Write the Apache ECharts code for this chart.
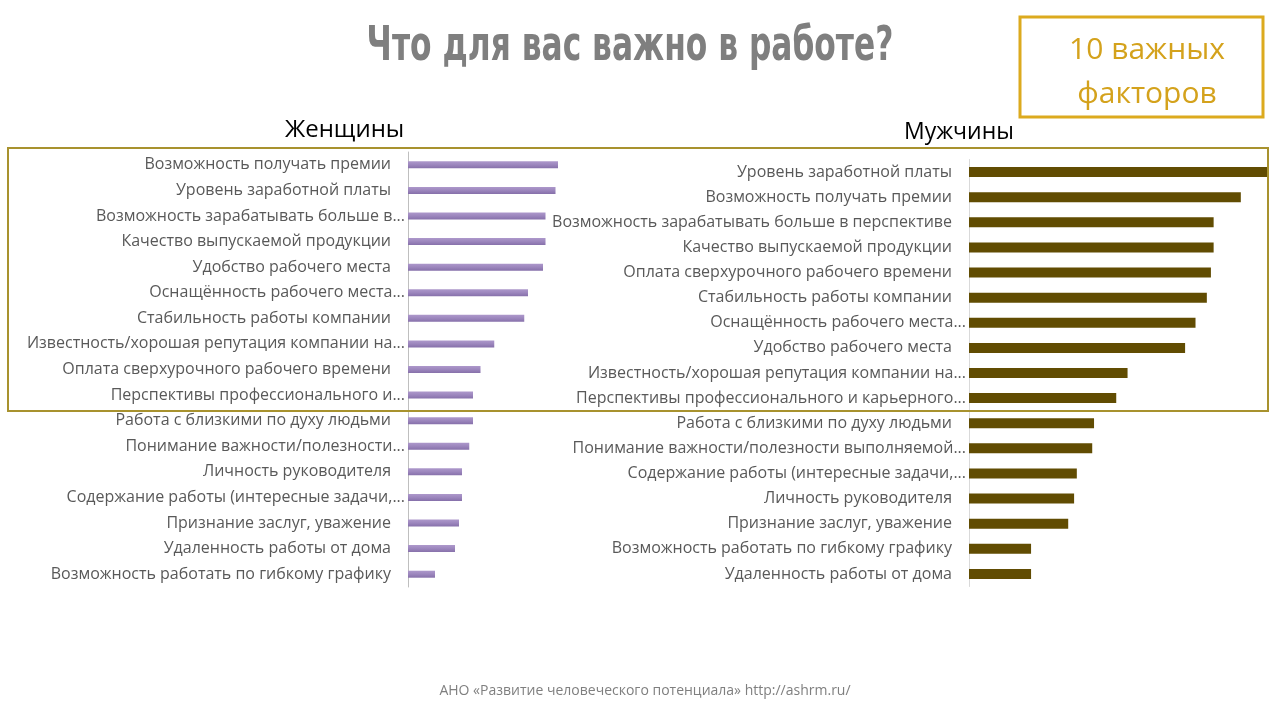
<!DOCTYPE html>
<html><head><meta charset="utf-8">
<script src="https://cdn.jsdelivr.net/npm/echarts@6/dist/echarts.min.js"></script>
<style>html,body{margin:0;padding:0;background:#fff}#c{width:1280px;height:720px}</style>
</head><body><div id="c"></div>
<script>
const womenCategories = [
  'Возможность получать премии',
  'Уровень заработной платы',
  'Возможность зарабатывать больше в...',
  'Качество выпускаемой продукции',
  'Удобство рабочего места',
  'Оснащённость рабочего места...',
  'Стабильность работы компании',
  'Известность/хорошая репутация компании на...',
  'Оплата сверхурочного рабочего времени',
  'Перспективы профессионального и...',
  'Работа с близкими по духу людьми',
  'Понимание важности/полезности...',
  'Личность руководителя',
  'Содержание работы (интересные задачи,...',
  'Признание заслуг, уважение',
  'Удаленность работы от дома',
  'Возможность работать по гибкому графику'
];
const womenValues = [60, 59, 55, 55, 54, 48, 46.5, 34.5, 29, 26, 26, 24.5, 21.6, 21.6, 20.4, 18.8, 10.8];

const menCategories = [
  'Уровень заработной платы',
  'Возможность получать премии',
  'Возможность зарабатывать больше в перспективе',
  'Качество выпускаемой продукции',
  'Оплата сверхурочного рабочего времени',
  'Стабильность работы компании',
  'Оснащённость рабочего места...',
  'Удобство рабочего места',
  'Известность/хорошая репутация компании на...',
  'Перспективы профессионального и карьерного...',
  'Работа с близкими по духу людьми',
  'Понимание важности/полезности выполняемой...',
  'Содержание работы (интересные задачи,...',
  'Личность руководителя',
  'Признание заслуг, уважение',
  'Возможность работать по гибкому графику',
  'Удаленность работы от дома'
];
const menValues = [66, 60, 54, 54, 53.4, 52.5, 50, 47.7, 35, 32.5, 27.6, 27.2, 23.8, 23.2, 21.9, 13.7, 13.7];

const labelFont = 'Open Sans';
function catLabel(v) {
  return v.endsWith('...') ? '{t|' + v + '}' : '{n|' + v + '}';
}
const rich = {
  t: {fontFamily: labelFont, fontSize: 16, color: '#595959', padding: [0, 0, 0, 0]},
  n: {fontFamily: labelFont, fontSize: 16, color: '#595959', padding: [0, 14, 0, 0]}
};

const chart = echarts.init(document.getElementById('c'));
chart.setOption({
  animation: false,
  title: [
    {text: 'Женщины', left: 280, top: 113, textStyle: {fontFamily: labelFont, fontWeight: 'normal', fontSize: 24, color: '#000'}},
    {text: 'Мужчины', left: 899, top: 116, textStyle: {fontFamily: labelFont, fontWeight: 'normal', fontSize: 23, color: '#000'}},
    {text: '10 важных\nфакторов', left: 1142, top: 23, textAlign: 'center',
     textStyle: {fontFamily: labelFont, fontWeight: 'normal', fontSize: 30, lineHeight: 44, color: '#d4a21c'}},
    {text: 'АНО «Развитие человеческого потенциала» http://ashrm.ru/', left: 640, top: 679, textAlign: 'center',
     textStyle: {fontFamily: labelFont, fontWeight: 'normal', fontSize: 14, color: '#7f7f7f'}}
  ],
  graphic: [
    {type: 'text', x: 630, y: 48, scaleX: 0.725, z: 10,
     style: {text: 'Что для вас важно в работе?', textAlign: 'center', textVerticalAlign: 'middle',
             font: 'bold 48px "DejaVu Sans Condensed", sans-serif', fill: '#7f7f7f'}},
    {type: 'rect', shape: {x: 1020, y: 17, width: 243, height: 100}, style: {fill: 'none', stroke: '#dcaa1e', lineWidth: 3}, z: 10},
    {type: 'rect', shape: {x: 8, y: 148, width: 1260, height: 263}, style: {fill: 'none', stroke: '#a8922e', lineWidth: 2}, z: 10}
  ],
  grid: [
    {left: 408, top: 152, width: 250, height: 435},
    {left: 969, top: 159.5, width: 299, height: 427}
  ],
  xAxis: [
    {gridIndex: 0, type: 'value', min: 0, max: 100, show: false},
    {gridIndex: 1, type: 'value', min: 0, max: 66, show: false}
  ],
  yAxis: [
    {gridIndex: 0, type: 'category', inverse: true, data: womenCategories,
     axisLine: {lineStyle: {color: '#bfbfbf'}}, axisTick: {show: false},
     axisLabel: {margin: 3, formatter: catLabel, rich: rich}},
    {gridIndex: 1, type: 'category', inverse: true, data: menCategories,
     axisLine: {lineStyle: {color: '#d9d9d9'}}, axisTick: {show: false},
     axisLabel: {margin: 3, formatter: catLabel, rich: rich}}
  ],
  series: [
    {type: 'bar', xAxisIndex: 0, yAxisIndex: 0, data: womenValues, barWidth: 7,
     itemStyle: {color: new echarts.graphic.LinearGradient(0, 0, 0, 1, [
       {offset: 0, color: '#ad98cb'}, {offset: 0.5, color: '#9c86bd'}, {offset: 1, color: '#8670aa'}])}},
    {type: 'bar', xAxisIndex: 1, yAxisIndex: 1, data: menValues, barWidth: 10,
     itemStyle: {color: '#614c02'}}
  ]
});
</script></body></html>
